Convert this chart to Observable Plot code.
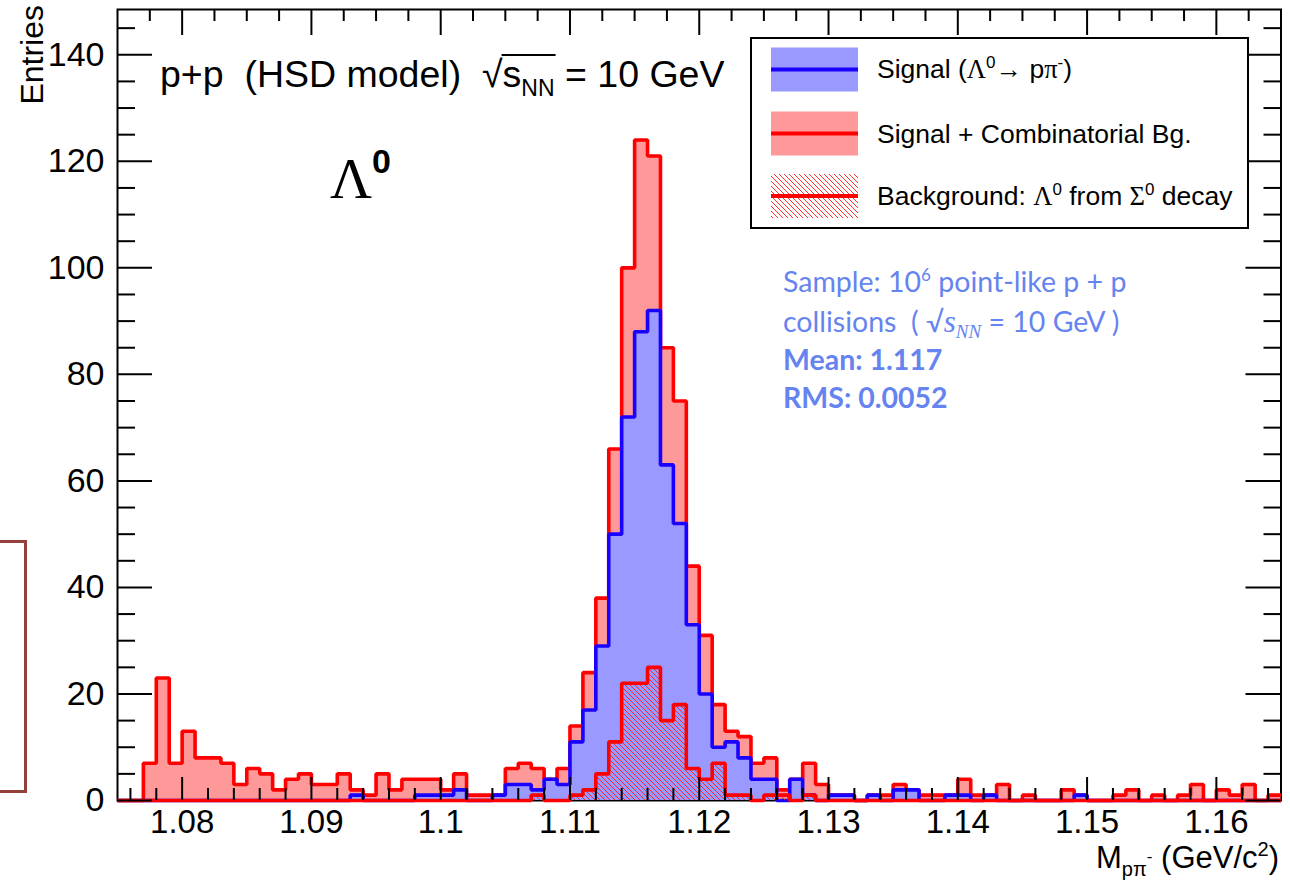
<!DOCTYPE html>
<html><head><meta charset="utf-8">
<script src="https://cdn.jsdelivr.net/npm/d3@7"></script>
<script src="https://cdn.jsdelivr.net/npm/@observablehq/plot@0.6"></script>
<style>
html,body{margin:0;padding:0;background:#fff;overflow:hidden;}
#wrap{position:relative;width:1290px;height:881px;}
#box{position:absolute;left:-4px;top:540px;width:25px;height:247px;border:3px solid #94403a;}
</style></head><body><div id="wrap"><div id="box"></div></div>
<script>
// Histogram binning: 90 bins of 0.001 GeV/c^2 from 1.075
const binLow = 1.075, binWidth = 0.001;
// Signal + Combinatorial Bg. (red)
const signalPlusBg = [
  0,0,7,23,7,13,8,8,7,3,
  6,5,2,4,5,3,3,5,2,1,
  5,2,4,4,4,2,5,1,1,1,
  6,7,6,4,6,14,24,38,66,100,
  124,121,85,75,44,31,18,13,12,7,
  8,2,4,7,3,1,1,0,1,1,
  3,2,1,1,1,4,1,1,3,0,
  1,0,0,2,1,0,0,1,2,0,
  1,0,1,3,0,2,1,3,0,1];
// Signal (Lambda0 -> p pi-) (blue)
const signal = [
  0,0,0,0,0,0,0,0,0,0,
  0,0,0,0,0,0,0,0,1,0,
  0,0,0,1,1,1,2,0,0,1,
  3,3,2,4,3,11,17,29,50,72,
  88,92,63,52,33,20,10,11,8,4,
  4,0,4,1,0,1,1,0,1,0,
  2,2,0,0,1,1,0,1,0,0,
  0,0,0,0,1,0,0,0,0,0,
  0,0,0,0,0,0,0,0,0,0];
// Background: Lambda0 from Sigma0 decay (hatched)
const sigmaBg = [
  0,0,0,0,0,0,0,0,0,0,
  0,0,0,0,0,0,0,0,0,0,
  0,0,0,0,0,0,0,0,0,0,
  0,0,1,0,0,1,2,5,11,22,
  22,25,15,18,6,4,7,1,1,0,
  1,1,0,1,0,0,0,0,0,0,
  0,0,0,0,0,0,0,0,0,0,
  0,0,0,0,0,0,0,0,0,0,
  0,0,0,0,0,0,0,0,0,0];
const xTicks = [1.08, 1.09, 1.1, 1.11, 1.12, 1.13, 1.14, 1.15, 1.16];
const xTickLabels = ["1.08","1.09","1.1","1.11","1.12","1.13","1.14","1.15","1.16"];
const yTicks = [0, 20, 40, 60, 80, 100, 120, 140];
const yTickLabels = ["0","20","40","60","80","100","120","140"];

const W = 1290, H = 881;
const mL = 117, mR = 9.5, mT = 9, mB = 81;
const pw = W - mL - mR, ph = H - mT - mB;

function steps(vals) {
  const pts = vals.map((v, i) => ({x: binLow + i * binWidth, y: v}));
  pts.push({x: binLow + vals.length * binWidth, y: vals[vals.length - 1]});
  return pts;
}
const lineOpts = {x: "x", y: "y", curve: "step-after", strokeWidth: 3.6, strokeLinejoin: "miter", strokeLinecap: "butt"};

const bottomMinor = d3.range(0, 46).map(i => 1.075 + i * 0.002 + 0.001).filter(v => v < 1.165);
const topMinor = d3.range(0, 37).map(i => 1.075 + i * 0.0025).filter(v => v > 1.0751 && v < 1.1649);
const yMinor = d3.range(0, 30).map(i => i * 5);

const tickStyle = {stroke: "black", strokeWidth: 2};

const plot = Plot.plot({
  width: W, height: H,
  marginLeft: mL, marginRight: mR, marginTop: mT, marginBottom: mB,
  x: {domain: [1.075, 1.165], axis: null},
  y: {domain: [0, 148.5], axis: null},
  style: {fontFamily: "'Liberation Sans', Arial, Helvetica, sans-serif", background: "white", color: "black"},
  marks: [
    Plot.frame({stroke: "black", strokeWidth: 2}),
    Plot.areaY(steps(signalPlusBg), {x: "x", y: "y", curve: "step-after", fill: "#ff9999"}),
    Plot.lineY(steps(signalPlusBg), {...lineOpts, stroke: "#ff0000"}),
    Plot.areaY(steps(signal), {x: "x", y: "y", curve: "step-after", fill: "#9999ff"}),
    Plot.lineY(steps(signal), {...lineOpts, stroke: "#1a00ff"}),
    Plot.areaY(steps(sigmaBg), {x: "x", y: "y", curve: "step-after", fill: "url(#hatchSigma)"}),
    Plot.lineY(steps(sigmaBg), {...lineOpts, stroke: "#ff0000"}),
    // inward ticks, ROOT style
    Plot.tickX(bottomMinor.filter(v => !xTicks.some(t => Math.abs(t - v) < 1e-6)), {x: d => d, insetTop: ph - 12, ...tickStyle}),
    Plot.tickX(xTicks, {x: d => d, insetTop: ph - 23, ...tickStyle}),
    Plot.tickX(topMinor.filter(v => !xTicks.some(t => Math.abs(t - v) < 1e-6)), {x: d => d, insetBottom: ph - 12, ...tickStyle}),
    Plot.tickX(xTicks, {x: d => d, insetBottom: ph - 26, ...tickStyle}),
    Plot.tickY(yMinor.filter(v => v % 20 !== 0), {y: d => d, insetRight: pw - 18, ...tickStyle}),
    Plot.tickY(yTicks, {y: d => d, insetRight: pw - 35, ...tickStyle}),
    Plot.tickY(yMinor.filter(v => v % 20 !== 0), {y: d => d, insetLeft: pw - 17, ...tickStyle}),
    Plot.tickY(yTicks, {y: d => d, insetLeft: pw - 35, ...tickStyle}),
    Plot.text(yTicks, {y: d => d, text: (d, i) => yTickLabels[i], frameAnchor: "left", dx: -13, textAnchor: "end", fontSize: 34, fill: "black"}),
    Plot.text(xTicks, {x: d => d, text: (d, i) => xTickLabels[i], frameAnchor: "bottom", dy: 9, lineAnchor: "top", fontSize: 33, fill: "black"})
  ]
});
document.getElementById("wrap").appendChild(plot);

const svg = d3.select(plot);
const defs = svg.insert("defs", ":first-child");
const pat = defs.append("pattern").attr("id", "hatchSigma").attr("patternUnits", "userSpaceOnUse")
  .attr("width", 5).attr("height", 5);
pat.append("path").attr("d", "M-1,-1 L6,6 M-1,4 L1,6 M4,-1 L6,1")
  .attr("stroke", "#ff1a1a").attr("stroke-width", 0.9).attr("fill", "none");

const serif = "'Liberation Serif', 'Times New Roman', serif";
const sans = "'Liberation Sans', Arial, sans-serif";

function rich(g, x, y, parts, size, extra = {}) {
  const t = g.append("text").attr("x", x).attr("y", y).attr("font-size", size)
    .attr("font-family", sans).attr("fill", extra.fill || "black").style("white-space", "pre")
    .attr("text-anchor", extra.anchor || "start");
  if (extra.weight) t.attr("font-weight", extra.weight);
  for (const p of parts) {
    const s = t.append("tspan").text(p.t);
    if (p.size) s.attr("font-size", p.size);
    if (p.dy) s.attr("dy", p.dy);
    if (p.family) s.attr("font-family", p.family);
    if (p.style) s.attr("font-style", p.style);
    if (p.weight) s.attr("font-weight", p.weight);
  }
  return t;
}

const g = svg.append("g").attr("text-anchor", "start");

// Y axis title
g.append("text").attr("transform", "translate(43,5) rotate(-90)").attr("text-anchor", "end")
  .attr("font-size", 32).attr("font-family", sans).text("Entries");

// X axis title
rich(g, 1279, 868, [
  {t: "M"}, {t: "pπ", size: 20, dy: 8}, {t: "-", size: 17, dy: -14}, {t: " (GeV/c", dy: 6},
  {t: "2", size: 20, dy: -12}, {t: ")", dy: 12}
], 31, {anchor: "end"});

// Header text
const title = rich(g, 160, 87, [
  {t: "p+p  (HSD model)  "}, {t: "√"}, {t: "s"}, {t: "NN", size: 23, dy: 9}, {t: " = 10 GeV", dy: -9}
], 37.5);
{
  const node = title.node();
  const s = "p+p  (HSD model)  ".length;
  const r = node.getExtentOfChar(s);
  const e = node.getExtentOfChar(s + 3);
  g.append("line").attr("x1", r.x + r.width - 1).attr("x2", e.x + e.width + 1)
    .attr("y1", r.y + 2).attr("y2", r.y + 2).attr("stroke", "black").attr("stroke-width", 2);
}

// Lambda0 label
rich(g, 330, 198, [{t: "Λ", family: serif}, {t: "0", size: 34, dy: -25, weight: "bold", family: sans}], 58);

// Legend
const lg = g.append("g");
lg.append("rect").attr("x", 751).attr("y", 38).attr("width", 497).attr("height", 190)
  .attr("fill", "white").attr("stroke", "black").attr("stroke-width", 2);
const rows = [
  {fill: "#9999ff", line: "#1a00ff", y: 69.5},
  {fill: "#ff9999", line: "#ff0000", y: 133.5},
  {fill: "url(#hatchSigma)", line: "#ff0000", y: 196}
];
rows.forEach(r => {
  lg.append("rect").attr("x", 771).attr("y", r.y - 22).attr("width", 87).attr("height", 44).attr("fill", r.fill);
  lg.append("line").attr("x1", 771).attr("x2", 858).attr("y1", r.y).attr("y2", r.y)
    .attr("stroke", r.line).attr("stroke-width", 4);
});
rich(lg, 877, 78, [
  {t: "Signal ("}, {t: "Λ", family: serif}, {t: "0", size: 17, dy: -10}, {t: "→ p", dy: 10},
  {t: "π", family: serif}, {t: "-", size: 17, dy: -10}, {t: ")", dy: 10}
], 26.5);
rich(lg, 877, 143, [{t: "Signal + Combinatorial Bg."}], 26.5);
rich(lg, 877, 205, [
  {t: "Background: "}, {t: "Λ", family: serif}, {t: "0", size: 17, dy: -10}, {t: " from ", dy: 10},
  {t: "Σ", family: serif}, {t: "0", size: 17, dy: -10}, {t: " decay", dy: 10}
], 26.5);

// Annotation (blue)
const ac = "#6584f0";
const aFont = "Lato, 'Open Sans', sans-serif";
const a1 = rich(g, 783, 292, [{t: "Sample: 10"}, {t: "6", size: 17, dy: -11}, {t: " point-like p + p", dy: 11}], 28.5, {fill: ac});
const a2 = rich(g, 783, 332, [
  {t: "collisions  ( √"}, {t: "s", family: serif, style: "italic", size: 31},
  {t: "NN", family: serif, style: "italic", size: 19, dy: 6}, {t: " = 10 GeV )", dy: -6}
], 28.5, {fill: ac});
const a3 = rich(g, 783, 370, [{t: "Mean: 1.117"}], 28.5, {fill: ac, weight: "bold"});
const a4 = rich(g, 783, 408, [{t: "RMS: 0.0052"}], 28.5, {fill: ac, weight: "bold"});
[a1, a2, a3, a4].forEach(t => t.attr("font-family", aFont));
</script>
</body></html>
